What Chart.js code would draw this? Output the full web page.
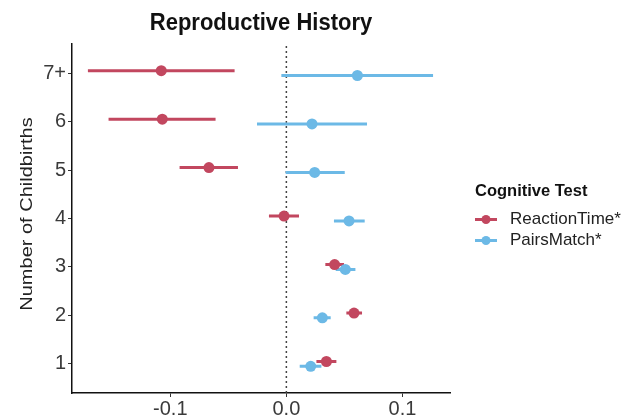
<!DOCTYPE html>
<html><head><meta charset="utf-8">
<script src="https://cdn.jsdelivr.net/npm/chart.js@4/dist/chart.umd.min.js"></script>
<style>html,body{margin:0;padding:0;background:#fff}#wrap{width:621px;height:418px}</style>
</head><body><div id="wrap"><canvas id="c" width="621" height="418"></canvas></div>
<script>
const categories = ["1","2","3","4","5","6","7+"];
const seriesNames = ["ReactionTime*","PairsMatch*"];
const reactionEst  = [0.0345, 0.0583, 0.0416, -0.002, -0.0667, -0.1069, -0.1078];
const reactionLow  = [0.0259, 0.0517, 0.0336, -0.015, -0.092, -0.1532, -0.171];
const reactionHigh = [0.0431, 0.0652, 0.0497, 0.0109, -0.0417, -0.061, -0.0446];
const pairsEst  = [0.021, 0.031, 0.0508, 0.054, 0.0244, 0.0221, 0.0612];
const pairsLow  = [0.0115, 0.0235, 0.0425, 0.041, -0.0006, -0.0253, -0.0043];
const pairsHigh = [0.0302, 0.0382, 0.0595, 0.0675, 0.0503, 0.0695, 0.1264];
const xTicks = [-0.1, 0.0, 0.1];
const xTickLabels = ["-0.1", "0.0", "0.1"];

const RED = "#c2475f", BLUE = "#6cb9e6";
const OFF = 0.05;
const FONT = "'Liberation Sans', Arial, sans-serif";

function barData(low, high, off){
  const d = [];
  low.forEach((l,i)=>{ d.push({x:l,y:i+1+off}); d.push({x:high[i],y:i+1+off}); d.push({x:NaN,y:NaN}); });
  return d;
}
function ptData(est, off){ return est.map((v,i)=>({x:v,y:i+1+off})); }

const overlay = {
  id:'overlay',
  afterDraw(chart){
    const ctx = chart.ctx;
    const ca = chart.chartArea;
    ctx.save();
    // title
    ctx.save();
    ctx.translate((ca.left+ca.right)/2, 23);
    ctx.scale(1, 1.08);
    ctx.fillStyle = "#111";
    ctx.font = "bold 22px " + FONT;
    ctx.textAlign = "center"; ctx.textBaseline = "middle";
    ctx.fillText("Reproductive History", 0, 0);
    ctx.restore();
    // y axis title
    ctx.save();
    ctx.translate(27, 214);
    ctx.rotate(-Math.PI/2);
    ctx.scale(1, 0.85);
    ctx.font = "20px " + FONT;
    ctx.fillStyle = "#222";
    ctx.textAlign = "center"; ctx.textBaseline = "middle";
    ctx.fillText("Number of Childbirths", 0, 0);
    ctx.restore();
    // legend
    ctx.textAlign = "left"; ctx.textBaseline = "middle";
    ctx.font = "bold 16.5px " + FONT;
    ctx.fillStyle = "#111";
    ctx.fillText("Cognitive Test", 475, 191);
    const cols = [RED, BLUE];
    const ys = [219.5, 240.5];
    ctx.font = "17px " + FONT;
    seriesNames.forEach((n,i)=>{
      ctx.strokeStyle = cols[i]; ctx.lineWidth = 3;
      ctx.beginPath(); ctx.moveTo(475, ys[i]); ctx.lineTo(497, ys[i]); ctx.stroke();
      ctx.fillStyle = cols[i];
      ctx.beginPath(); ctx.arc(486, ys[i], 4.5, 0, Math.PI*2); ctx.fill();
      ctx.fillStyle = "#222";
      ctx.fillText(n, 510, ys[i]);
    });
    ctx.restore();
  }
};

new Chart(document.getElementById('c'), {
  type: 'scatter',
  data: {
    datasets: [
      {type:'line', data:[{x:0,y:0.4},{x:0,y:7.6}], borderColor:'#444', borderWidth:1.5, borderDash:[2,3], pointRadius:0, order:5},
      {type:'line', data: barData(pairsLow, pairsHigh, -OFF), borderColor:BLUE, borderWidth:3, pointRadius:0, spanGaps:false, order:4},
      {type:'line', data: barData(reactionLow, reactionHigh, OFF), borderColor:RED, borderWidth:3, pointRadius:0, spanGaps:false, order:3},
      {label:seriesNames[1], data: ptData(pairsEst, -OFF), backgroundColor:BLUE, borderColor:BLUE, pointRadius:5.5, pointBorderWidth:0, order:2},
      {label:seriesNames[0], data: ptData(reactionEst, OFF), backgroundColor:RED, borderColor:RED, pointRadius:5.5, pointBorderWidth:0, order:1}
    ]
  },
  options: {
    responsive:false, animation:false, devicePixelRatio:1,
    layout:{padding:{top:44, right:171, left:0, bottom:0}},
    plugins:{legend:{display:false}, tooltip:{enabled:false}},
    scales:{
      x:{
        type:'linear', min:-0.1847, max:0.141,
        afterBuildTicks(s){ s.ticks = xTicks.map(v=>({value:v})); },
        afterFit(s){ s.height = 25; },
        ticks:{ callback:(v)=>xTickLabels[xTicks.findIndex(t=>Math.abs(t-v)<1e-9)], color:'#3a3a3a', font:{size:20, family:FONT}, padding:0, maxRotation:0},
        grid:{drawOnChartArea:false, tickLength:4, color:'#333', lineWidth:1},
        border:{display:true, color:'#111', width:1.5}
      },
      y:{
        type:'linear', min:0.4, max:7.6,
        afterBuildTicks(s){ s.ticks = categories.map((c,i)=>({value:i+1})); },
        afterFit(s){ s.width = 72; },
        ticks:{ callback:(v)=>categories[Math.round(v)-1], color:'#3a3a3a', font:{size:20, family:FONT}, padding:2},
        grid:{drawOnChartArea:false, tickLength:4, color:'#333', lineWidth:1},
        border:{display:true, color:'#111', width:1.5}
      }
    }
  },
  plugins:[overlay]
});
</script>
</body></html>
